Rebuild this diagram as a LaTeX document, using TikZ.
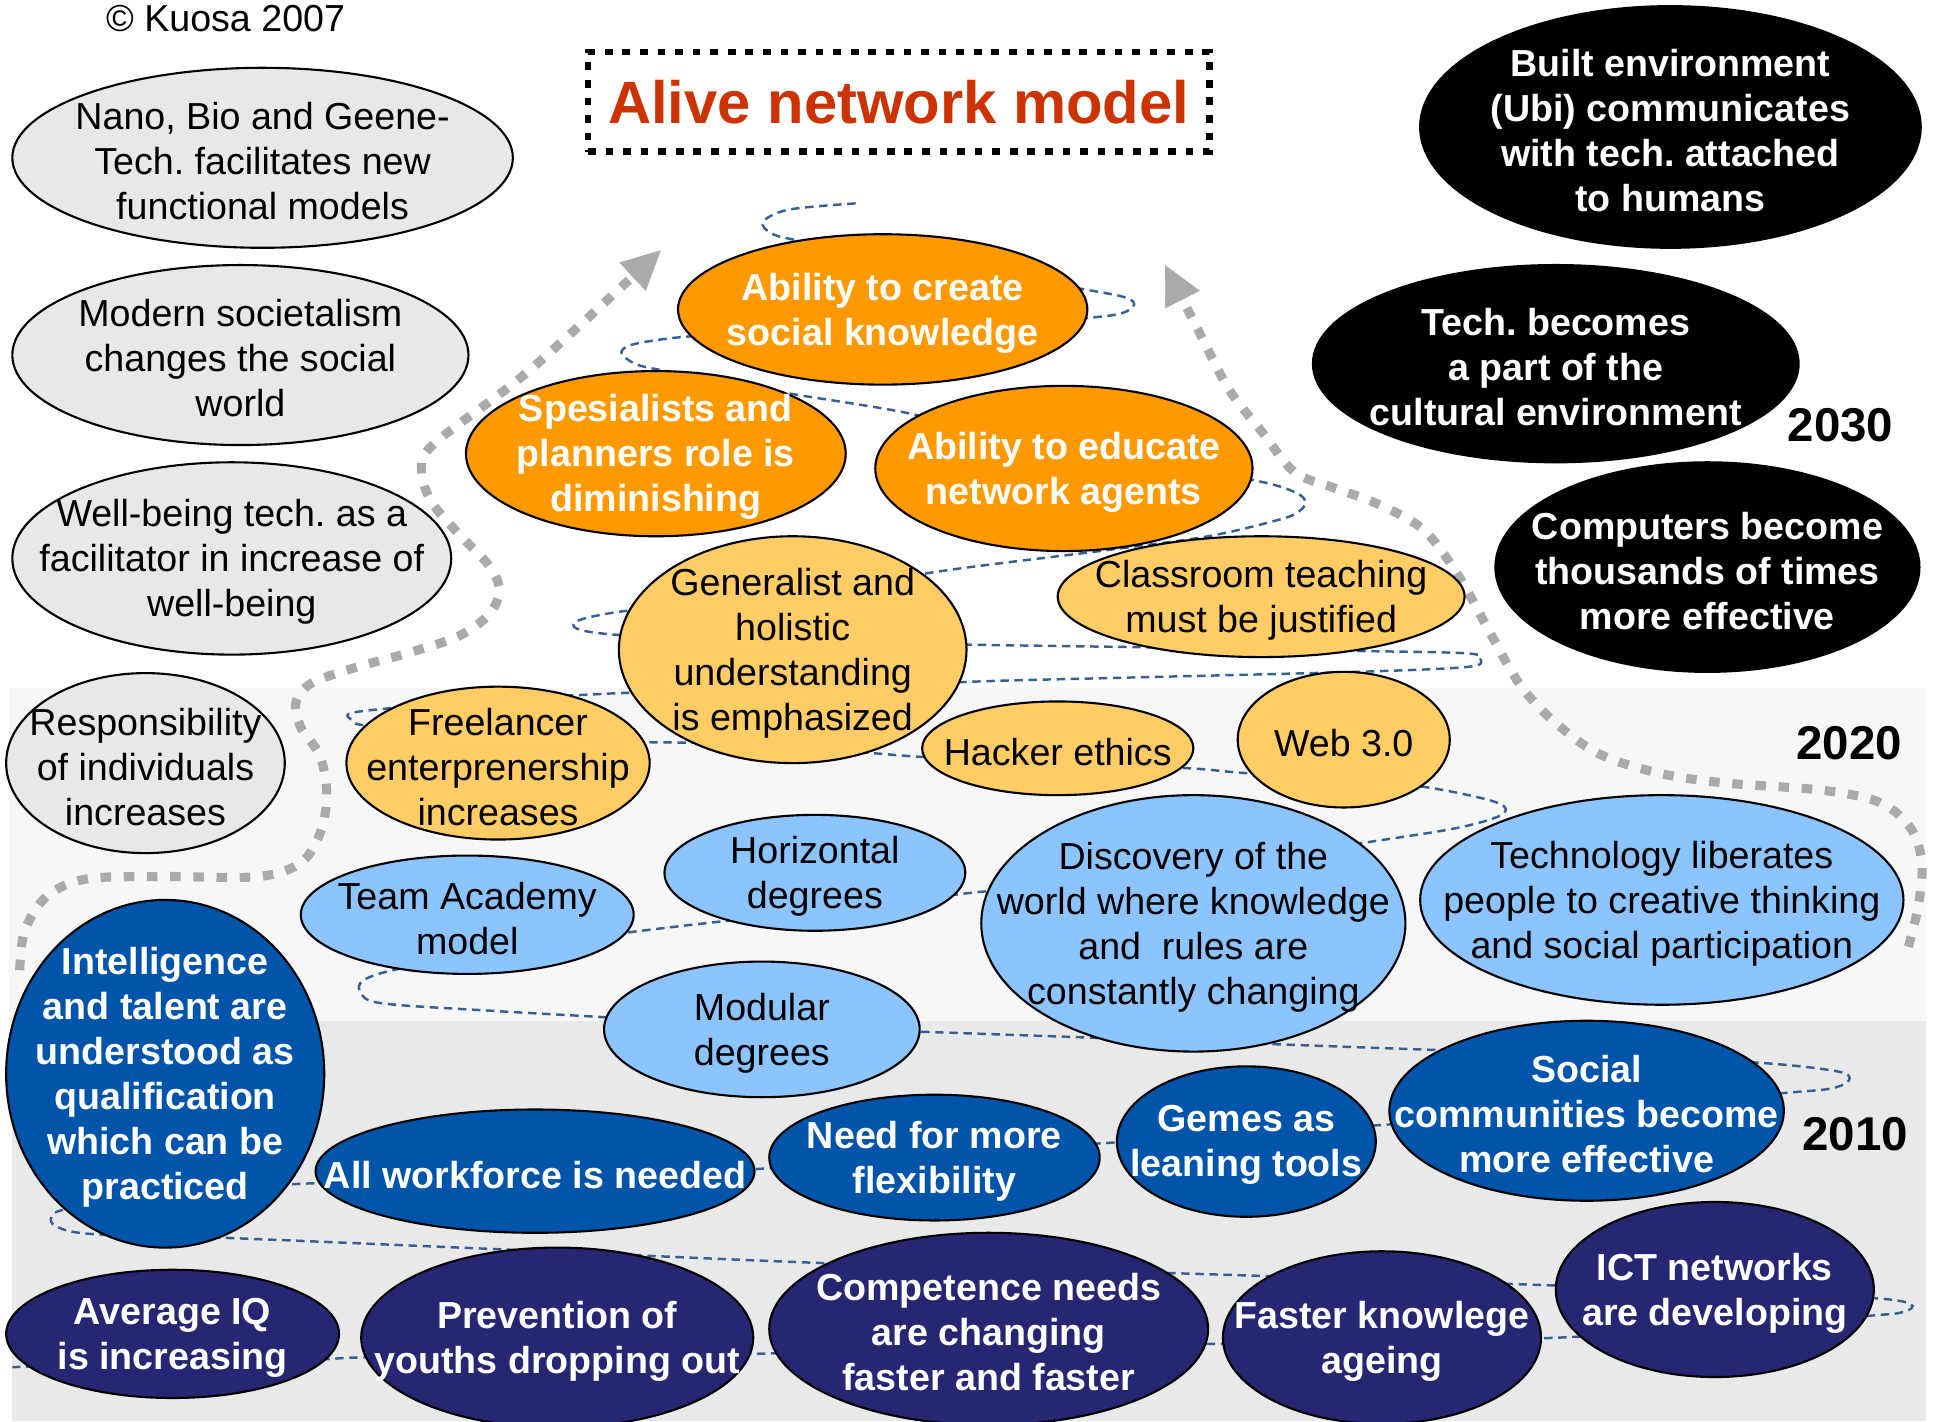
\documentclass[tikz,border=0pt]{standalone}
\usepackage{fontspec}
\setmainfont{Liberation Sans}
\usetikzlibrary{positioning}
\usetikzlibrary{arrows.meta,shapes}
\usetikzlibrary{calc}
\frenchspacing

\definecolor{bubblegray}{RGB}{232,232,232}
\definecolor{bubbleorange}{RGB}{255,153,0}
\definecolor{bubbleyellow}{RGB}{255,204,102}
\definecolor{bubblesky}{RGB}{140,196,255}
\definecolor{bubbleblue}{RGB}{0,85,170}
\definecolor{bubblenavy}{RGB}{38,38,115}
\definecolor{titlered}{RGB}{204,51,0}
\definecolor{pathblue}{RGB}{54,96,146}
\definecolor{arrowgray}{RGB}{170,170,170}
\definecolor{bandlight}{RGB}{247,247,247}
\definecolor{banddark}{RGB}{233,233,233}

\newcommand{\bodyfont}{\fontsize{10.7}{12.8}\selectfont}
\newcommand{\boldbody}{\fontsize{10.7}{12.8}\selectfont\bfseries}

\tikzstyle{bubble}=[ellipse,draw=black,line width=0.6pt,inner sep=0pt]
\tikzstyle{graybubble}=[bubble,fill=bubblegray]
\tikzstyle{blackbubble}=[bubble,fill=black]
\tikzstyle{orangebubble}=[bubble,fill=bubbleorange]
\tikzstyle{yellowbubble}=[bubble,fill=bubbleyellow]
\tikzstyle{skybubble}=[bubble,fill=bubblesky]
\tikzstyle{bluebubble}=[bubble,fill=bubbleblue]
\tikzstyle{navybubble}=[bubble,fill=bubblenavy]
\tikzstyle{darktext}=[align=center,inner sep=0pt,yshift=-0.35mm,font=\bodyfont]
\tikzstyle{whitetext}=[align=center,inner sep=0pt,yshift=-0.35mm,text=white,font=\boldbody]
\tikzstyle{yearlabel}=[inner sep=0pt,font=\fontsize{13.5}{16}\selectfont\bfseries]
\tikzstyle{serpent}=[draw=pathblue,line width=0.7pt,dash pattern=on 2.4pt off 1.6pt]
\tikzstyle{timearrow}=[draw=arrowgray,line width=2.6pt,dash pattern=on 3pt off 3.6pt,-{Triangle[length=11pt,width=11pt,line width=0.1pt]}]
\tikzset{sz/.style 2 args={minimum width=#1*0.24656mm,minimum height=#2*0.24656mm}}

\begin{document}
\begin{tikzpicture}[x=0.12328mm,y=-0.12328mm]
    \useasboundingbox (0,0) rectangle (1568,1153);
    % Background bands for the decades
    \fill[bandlight] (7,558) rectangle (1562,828);
    \fill[banddark] (10,828) rectangle (1562,1153);

    % The winding path behind the bubbles
    \draw[serpent] plot[smooth,tension=0.55] coordinates {
        (694,165) (640,170) (619,180) (627,190) (655,197) (760,222) (850,230)
        (881,235) (912,241) (920,247) (910,254) (881,258) (780,266) (620,271)
        (558,273) (515,279) (504,286) (515,295) (535,300) (600,312) (645,320)
        (736,335) (800,352) (960,380) (1024,391) (1052,400) (1059,408) (1052,416)
        (1036,422) (980,435) (900,446) (752,465) (680,482) (560,491) (504,496)
        (470,503) (468,510) (501,515) (600,520) (788,523) (925,525) (1100,528)
        (1190,530) (1201,535) (1190,541) (1100,545) (900,550) (788,553) (700,558)
        (560,561) (509,562) (466,564) (400,567) (311,575) (283,579) (287,585)
        (300,589) (400,600) (522,602) (585,603) (650,607) (709,611) (748,614)
        (858,620) (960,623) (1009,627) (1090,632) (1153,638) (1200,647) (1220,654)
        (1216,662) (1180,672) (1104,684) (1000,700) (830,720) (800,723) (781,725)
        (700,735) (598,746) (505,757) (420,770) (328,785) (295,795) (293,806)
        (311,814) (400,820) (488,825) (600,832) (750,837) (950,844) (1173,852)
        (1300,856) (1426,862) (1490,869) (1500,876) (1485,883) (1443,887) (1300,900)
        (1114,913) (1000,920) (900,927) (760,935) (618,948) (450,955) (250,960)
        (150,968) (58,980) (42,987) (46,995) (75,1001) (180,1004) (420,1014)
        (680,1025) (960,1033) (1240,1042) (1400,1048) (1520,1053) (1550,1058)
        (1545,1064) (1520,1067) (1400,1076) (1265,1085) (1120,1088) (990,1090)
        (800,1094) (620,1098) (450,1101) (300,1101) (250,1103) (100,1106) (10,1109)};

    % Dotted gray arrows
    \draw[timearrow] plot[smooth,tension=0.55] coordinates {
        (16,787) (20,755) (38,727) (70,713) (130,711) (210,711) (245,699)
        (261,672) (265,641) (259,612) (244,590) (240,570) (253,554) (290,541)
        (330,530) (372,516) (397,498) (405,478) (396,458) (372,433) (350,407)
        (342,382) (352,360) (430,300) (536,203)};
    \draw[timearrow] plot[smooth,tension=0.55] coordinates {
        (1548,768) (1556,735) (1559,700) (1550,672) (1525,651) (1478,641)
        (1398,635) (1345,627) (1296,611) (1258,583) (1232,554) (1208,512)
        (1183,467) (1155,430) (1118,409) (1080,395) (1050,383) (1025,352)
        (997,316) (972,268) (945,215)};

    % Title and copyright
    \node[draw=black,line width=1.8pt,dash pattern=on 2.2pt off 2.8pt,sz={252}{40.5},
          text=titlered,font=\fontsize{17}{20}\selectfont\bfseries] (title) at (729,82.5) {Alive network model};
    \node[darktext] (copyright) at (183,12) {\textcopyright{} Kuosa 2007};

    % Gray bubbles
    \foreach \pos/\w/\h/\name/\txt in {{(213,128)/203/73/nano/{Nano, Bio and Geene-\\Tech. facilitates new\\functional models}},
        {(195,288)/185/73/modern/{Modern societalism\\changes the social\\world}},
        {(188,453)/178/78/wellbeing/{Well-being tech. as a\\facilitator in increase of\\well-being}},
        {(118,619)/113/73/respons/{Responsibility\\of individuals\\increases}}}
    {
        \node[graybubble,sz={\w}{\h}] (\name) at \pos {};
        \node[darktext] (\name-label) at (\name) {\txt};
    }

    % Black bubbles
    \foreach \pos/\w/\h/\name/\txt in {{(1355,103)/203/98/built/{Built environment\\(Ubi) communicates\\with tech. attached\\to humans}},
        {(1262,295)/197/80/culture/{Tech. becomes\\a part of the\\cultural environment}},
        {(1385,460)/172/85/computers/{Computers become\\thousands of times\\more effective}}}
    {
        \node[blackbubble,sz={\w}{\h}] (\name) at \pos {};
        \node[whitetext] (\name-label) at (\name) {\txt};
    }

    % Orange bubbles
    \foreach \pos/\w/\h/\name/\txt in {{(716,251)/166/61/socialknow/{Ability to create\\social knowledge}},
        {(532,368)/154/67/specialists/{Spesialists and\\planners role is\\diminishing}},
        {(863,380)/153/67/educate/{Ability to educate\\network agents}}}
    {
        \node[orangebubble,sz={\w}{\h}] (\name) at \pos {};
        \node[whitetext] (\name-label) at (\name) {\txt};
    }

    % Light orange bubbles
    \foreach \pos/\w/\h/\name/\txt in {{(643,527)/141/92/generalist/{Generalist and\\holistic\\understanding\\is emphasized}},
        {(1023,484)/165/49/classroom/{Classroom teaching\\must be justified}},
        {(404,619)/123/62/freelancer/{Freelancer\\enterprenership\\increases}},
        {(858,607)/110/38/hacker/{Hacker ethics}},
        {(1090,600)/86/55/web/{Web 3.0}}}
    {
        \node[yellowbubble,sz={\w}{\h}] (\name) at \pos {};
        \node[darktext] (\name-label) at (\name) {\txt};
    }

    % Light blue bubbles
    \foreach \pos/\w/\h/\name/\txt in {{(661,708)/122/47/horizontal/{Horizontal\\degrees}},
        {(379,742)/135/48/teamacademy/{Team Academy\\model}},
        {(968,749)/172/104/discovery/{Discovery of the\\world where knowledge\\and\ \ rules are\\constantly changing}},
        {(1348,730)/196/85/liberates/{Technology liberates\\people to creative thinking\\and social participation}},
        {(618,835)/128/55/modular/{Modular\\degrees}}}
    {
        \node[skybubble,sz={\w}{\h}] (\name) at \pos {};
        \node[darktext] (\name-label) at (\name) {\txt};
    }

    % Blue bubbles
    \foreach \pos/\w/\h/\name/\txt in {{(134,871)/129/141/intelligence/{Intelligence\\and talent are\\understood as\\qualification\\which can be\\practiced}},
        {(434,950)/178/50/workforce/{All workforce is needed}},
        {(758,939)/134/51/flexibility/{Need for more\\flexibility}},
        {(1011,926)/105/61/games/{Gemes as\\leaning tools}},
        {(1287,901)/160/73/communities/{Social\\communities become\\more effective}}}
    {
        \node[bluebubble,sz={\w}{\h}] (\name) at \pos {};
        \node[whitetext] (\name-label) at (\name) {\txt};
    }

    % Navy bubbles
    \foreach \pos/\w/\h/\name/\txt in {{(140,1082)/135/52/avgiq/{Average IQ\\is increasing}},
        {(452,1085)/159/73/dropout/{Prevention of\\youths dropping out}},
        {(802,1078)/178/78/competence/{Competence needs\\are changing\\faster and faster}},
        {(1121,1085)/129/70/ageing/{Faster knowlege\\ageing}},
        {(1391,1046)/129/71/ict/{ICT networks\\are developing}}}
    {
        \node[navybubble,sz={\w}{\h}] (\name) at \pos {};
        \node[whitetext] (\name-label) at (\name) {\txt};
    }

    % Decade labels
    \node[yearlabel] (y2030) at (1493,345) {2030};
    \node[yearlabel] (y2020) at (1500,603) {2020};
    \node[yearlabel] (y2010) at (1505,920) {2010};
\end{tikzpicture}
\end{document}
